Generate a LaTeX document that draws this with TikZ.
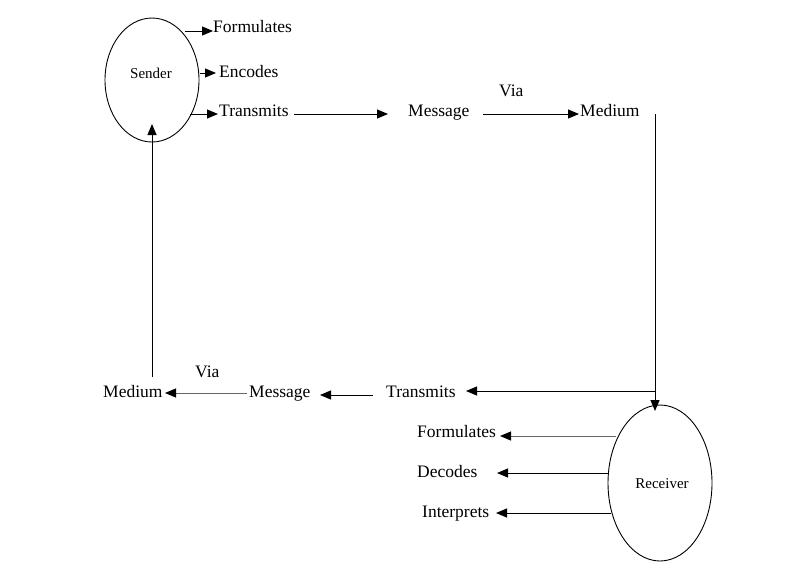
\documentclass[tikz,border=0pt]{standalone}
\usepackage{fontspec}
\setmainfont{Liberation Serif}
\usetikzlibrary{arrows.meta,shapes.geometric}
\tikzset{
  lbl/.style={inner sep=0pt, anchor=base west, font=\fontsize{17.5}{20}\selectfont},
  bubble/.style={draw, ellipse, inner sep=0pt, line width=0.9pt},
  bubtxt/.style={inner sep=0pt, font=\fontsize{15}{18}\selectfont},
  arr/.style={line width=1pt, -{Triangle[length=11pt,width=9pt,color=black]}},
}
\begin{document}
\begin{tikzpicture}[x=1pt,y=-1pt]
\useasboundingbox (0,0) rectangle (789,571);
% ellipses
\node[bubble, minimum width=94pt, minimum height=124pt] (sender) at (152,80) {};
\node[bubtxt] (sendertxt) at (151,73) {Sender};
\node[bubble, minimum width=104pt, minimum height=156pt] (receiver) at (660,483) {};
\node[bubtxt] (receivertxt) at (662,484) {Receiver};
% top labels
\node[lbl] (form1) at (213,32) {Formulates};
\node[lbl] (enc) at (219,77) {Encodes};
\node[lbl] (trans1) at (219,116) {Transmits};
\node[lbl] (msg1) at (408,116) {Message};
\node[lbl] (med1) at (580,116) {Medium};
\node[lbl] (via1) at (499,96) {Via};
% bottom labels
\node[lbl] (med2) at (103,397) {Medium};
\node[lbl] (via2) at (195,377) {Via};
\node[lbl] (msg2) at (249,397) {Message};
\node[lbl] (trans2) at (386,397) {Transmits};
\node[lbl] (form2) at (417,437) {Formulates};
\node[lbl] (dec) at (417,477) {Decodes};
\node[lbl] (int) at (422,517) {Interprets};
% coordinates
\coordinate (s1) at (185,31);
\coordinate (e1) at (213,31);
\coordinate (s2) at (200,73);
\coordinate (e2) at (216,73);
\coordinate (s3) at (190,114);
\coordinate (e3) at (218,114);
\coordinate (s4) at (294,114);
\coordinate (e4) at (388,114);
\coordinate (s5) at (483,114);
\coordinate (e5) at (579,114);
\coordinate (s6) at (655,114);
\coordinate (e6) at (655,411);
\coordinate (s7) at (655,391);
\coordinate (e7) at (466,391);
\coordinate (s8) at (373,395);
\coordinate (e8) at (320,395);
\coordinate (s9) at (247,393);
\coordinate (e9) at (165,393);
\coordinate (s10) at (152,377);
\coordinate (e10) at (152,124);
\coordinate (s11) at (616,436);
\coordinate (e11) at (500,436);
\coordinate (s12) at (609,473);
\coordinate (e12) at (497,473);
\coordinate (s13) at (611,513);
\coordinate (e13) at (496,513);
% connectors
\draw[arr] (s1) -- (e1);
\draw[arr] (s2) -- (e2);
\draw[arr] (s3) -- (e3);
\draw[arr] (s4) -- (e4);
\draw[arr] (s5) -- (e5);
\draw[arr] (s6) -- (e6);
\draw[arr] (s7) -- (e7);
\draw[arr] (s8) -- (e8);
\draw[arr,draw=black!60] (s9) -- (e9);
\draw[arr] (s10) -- (e10);
\draw[arr,draw=black!60] (s11) -- (e11);
\draw[arr] (s12) -- (e12);
\draw[arr] (s13) -- (e13);
\end{tikzpicture}
\end{document}
